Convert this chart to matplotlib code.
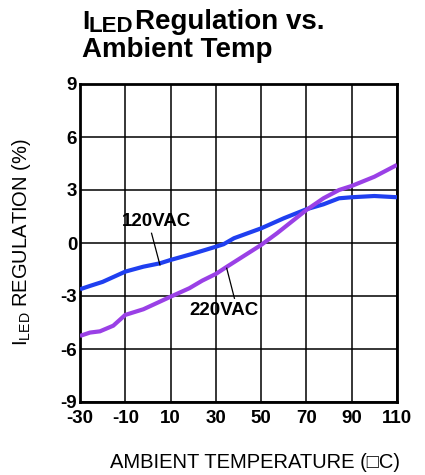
import matplotlib
matplotlib.use("Agg")
import matplotlib.pyplot as plt

# 120VAC curve (temperature in C, regulation in %)
temp_120 = [-30, -25.6, -20, -10, -2, 5.3, 10, 20, 30, 33.4, 38, 50, 60, 70, 77.5, 84.4, 90, 100, 110]
reg_120 = [-2.62, -2.43, -2.2, -1.62, -1.34, -1.15, -0.96, -0.6, -0.21, -0.07, 0.27, 0.83, 1.4, 1.91, 2.19, 2.53, 2.59, 2.66, 2.59]

# 220VAC curve
temp_220 = [-30, -25.6, -21.2, -15.3, -10, -2, 10, 18.3, 24, 30, 34.9, 50, 57, 70, 77.5, 84.4, 90, 100, 110]
reg_220 = [-5.26, -5.07, -5.0, -4.68, -4.07, -3.75, -3.04, -2.56, -2.13, -1.75, -1.34, -0.11, 0.55, 1.87, 2.53, 3.0, 3.23, 3.75, 4.42]

x_ticks = [-30, -10, 10, 30, 50, 70, 90, 110]
y_ticks = [-9, -6, -3, 0, 3, 6, 9]

plt.rcParams["font.family"] = ["Liberation Sans", "DejaVu Sans"]
plt.rcParams["axes.unicode_minus"] = False

W, H = 425, 475
fig = plt.figure(figsize=(W / 100, H / 100), dpi=100)
ax = fig.add_axes([80 / W, 1 - 402 / H, 317 / W, 318 / H])

ax.plot(temp_120, reg_120, color="#1f3ff0", lw=3, solid_capstyle="butt", zorder=3)
ax.plot(temp_220, reg_220, color="#9a40e6", lw=3, solid_capstyle="butt", zorder=3)

ax.set_xlim(-30, 110)
ax.set_ylim(-9, 9)
ax.set_xticks(x_ticks)
ax.set_yticks(y_ticks)
ax.grid(True, color="black", lw=1.1)
ax.tick_params(length=0, labelsize=13.5)
ax.tick_params(axis="x", pad=6)
ax.tick_params(axis="y", pad=2)
for lab in ax.get_xticklabels() + ax.get_yticklabels():
    lab.set_fontweight("bold")
for s in ax.spines.values():
    s.set_linewidth(2)

# curve labels with leader lines
ax.text(3.6, 1.19, "120VAC", fontsize=13.5, fontweight="bold", ha="center", va="center")
ax.plot([1.6, 5.3], [0.55, -1.24], color="black", lw=0.9, zorder=4)
ax.text(33.4, -3.82, "220VAC", fontsize=13.5, fontweight="bold", ha="center", va="center")
ax.plot([38.2, 34.8], [-3.13, -1.43], color="black", lw=0.9, zorder=4)

# axis titles
fig.text(255 / W, 1 - 462 / H, "AMBIENT TEMPERATURE (\u25a1C)", fontsize=14.5,
         ha="center", va="center")
fig.text(22 / W, 1 - 242 / H, r"I$_{\mathregular{LED}}$ REGULATION (%)", fontsize=14.5,
         rotation=90, ha="center", va="center")

# chart title, subscript built from separate pieces
fig.text(82 / W, 1 - 29 / H, "I", fontsize=19, fontweight="bold", va="baseline")
fig.text(88 / W, 1 - 32 / H, "LED", fontsize=16, fontweight="bold", va="baseline")
fig.text(135 / W, 1 - 29 / H, "Regulation vs.", fontsize=20, fontweight="bold", va="baseline")
fig.text(82 / W, 1 - 57 / H, "Ambient Temp", fontsize=20, fontweight="bold", va="baseline")

fig.savefig("out.png", dpi=100)
